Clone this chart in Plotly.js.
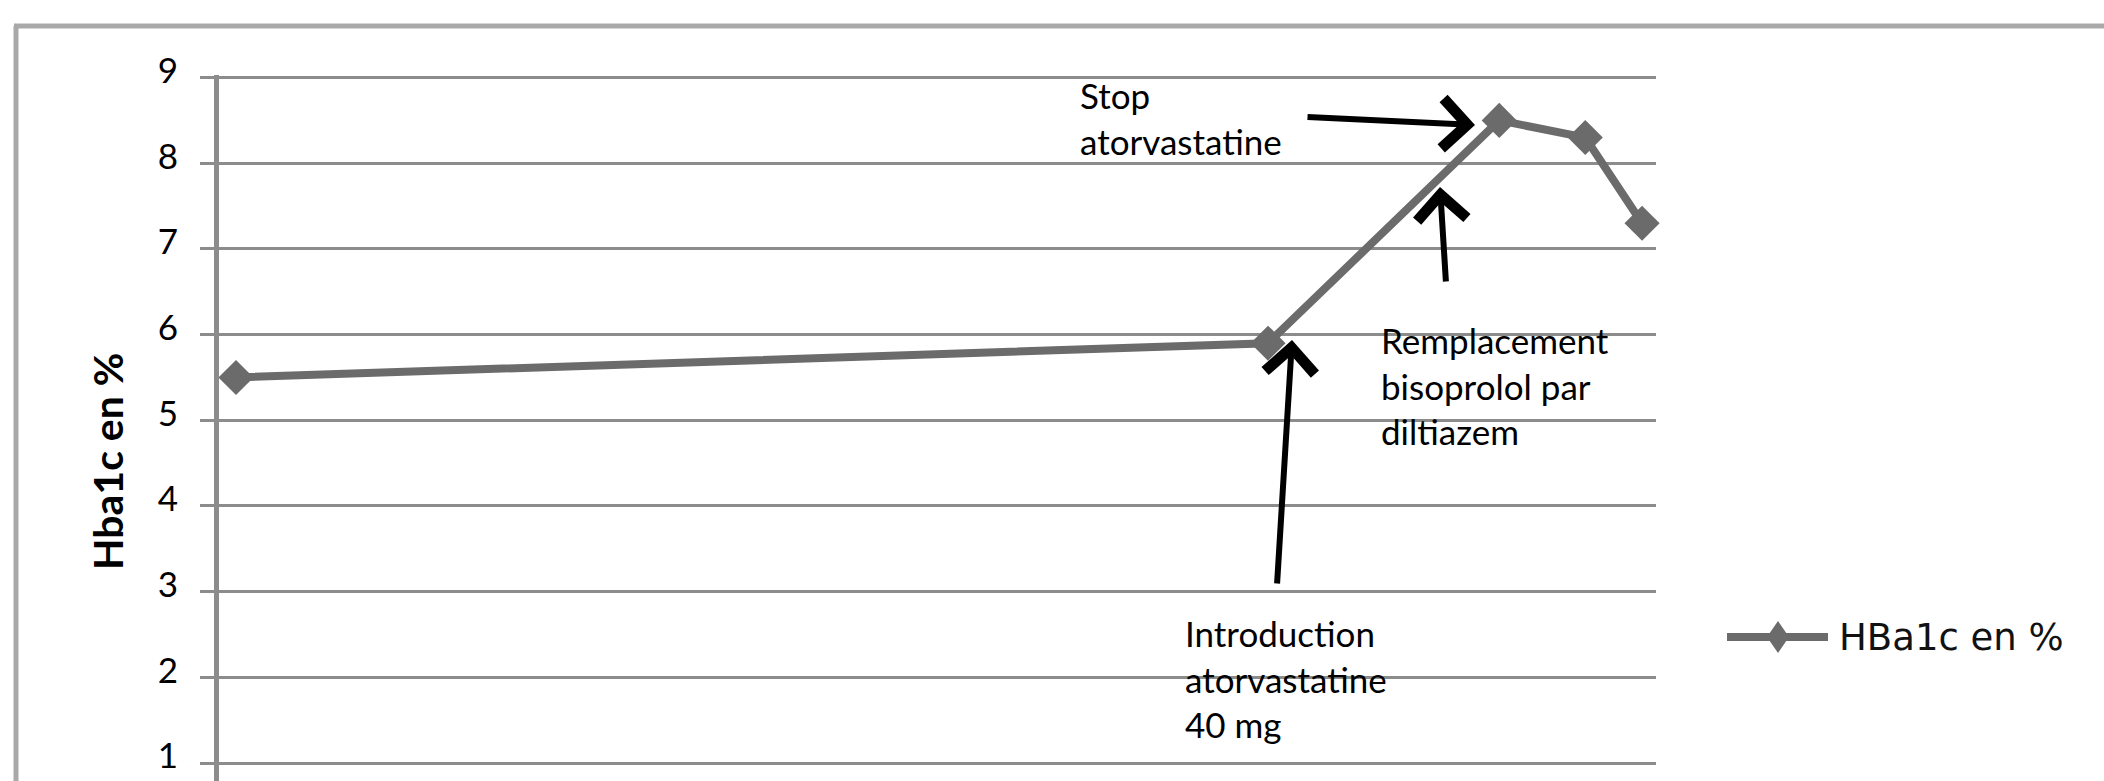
<!DOCTYPE html>
<html>
<head>
<meta charset="utf-8">
<script src="https://cdn.plot.ly/plotly-3.0.1.min.js"></script>
<style>html,body{margin:0;padding:0;background:#fff;overflow:hidden}#chart{width:2104px;height:781px}</style>
</head>
<body>
<div id="chart"></div>
<script>
// ---- data ----
const seriesName = "HBa1c en %";
const timePoints = [0, 30.35, 37.15, 39.68, 41.35];   // position in time (months, estimated)
const hba1cValues = [5.5, 5.9, 8.5, 8.3, 7.3];
const yTickValues = [1, 2, 3, 4, 5, 6, 7, 8, 9];
const yTickLabels = ["1", "2", "3", "4", "5", "6", "7", "8", "9"];
const yAxisTitle = "Hba1c en %";
const eventLabels = [
  "Stop<br>atorvastatine",
  "Remplacement<br>bisoprolol par<br>diltiazem",
  "Introduction<br>atorvastatine<br>40 mg"
];

// ---- layout geometry (pixels) ----
const W = 2104, H = 781;
const M = {l: 219, r: 448, t: 75, b: 0};
const xRange = [-0.5, 41.76];
const yRange = [0.79, 9.03];
const plotW = W - M.l - M.r, plotH = H - M.t - M.b;
const dx = px => xRange[0] + (px - M.l) / plotW * (xRange[1] - xRange[0]);
const dy = py => yRange[1] - (py - M.t) / plotH * (yRange[1] - yRange[0]);
const paperX = px => (px - M.l) / plotW;
const paperY = py => (H - M.b - py) / plotH;

const grey = "#6b6b6b";
const lineWidth = 8;
const trace = {
  type: "scatter", mode: "lines+markers", name: seriesName,
  x: timePoints, y: hba1cValues,
  line: {color: grey, width: lineWidth},
  marker: {symbol: "diamond", size: 27, color: grey},
  cliponaxis: false, hoverinfo: "skip", showlegend: false
};

const textFont = {family: "Lato, 'Open Sans', sans-serif", size: 35, color: "#000"};
// arrows: [tip px, tail px]
const arrows = [
  [[1475, 125], [1306, 117]],
  [[1440, 187], [1446, 283]],
  [[1292, 340], [1277, 585]]
];
// text blocks: [left px, center py]
const textPos = [[1078, 118], [1379, 385], [1183, 678]];

const annotations = [];
arrows.forEach(a => annotations.push({
  xref: "x", yref: "y", axref: "x", ayref: "y",
  x: dx(a[0][0]), y: dy(a[0][1]), ax: dx(a[1][0]), ay: dy(a[1][1]),
  text: "", showarrow: true, arrowhead: 4, arrowwidth: 6, arrowsize: 1.6, arrowcolor: "#000"
}));
eventLabels.forEach((t, i) => annotations.push({
  xref: "paper", yref: "paper", x: paperX(textPos[i][0]), y: paperY(textPos[i][1]),
  xanchor: "left", yanchor: "middle", align: "left", showarrow: false,
  text: t, font: textFont
}));
annotations.push({
  xref: "paper", yref: "paper", x: paperX(107), y: paperY(461),
  xanchor: "center", yanchor: "middle", textangle: -90, showarrow: false,
  text: "<b>" + yAxisTitle + "</b>",
  font: {family: "Lato, sans-serif", size: 41, color: "#000"}
});

// legend (drawn to match the long sample line of the original)
const legendY = 637, legendX0 = 1727, legendX1 = 1828, legendMarkX = 1778, legendTextX = 1837;
annotations.push({
  xref: "paper", yref: "paper", x: paperX(legendTextX), y: paperY(legendY),
  xanchor: "left", yanchor: "middle", showarrow: false,
  text: seriesName, font: {family: "'DejaVu Sans', sans-serif", size: 37, color: "#111"}
});

const borderColor = "#a9a9a9";
const shapes = [
  {type: "line", xref: "paper", yref: "paper", x0: paperX(16), x1: paperX(16), y0: paperY(900), y1: paperY(26),
   line: {color: borderColor, width: 5}},
  {type: "line", xref: "paper", yref: "paper", x0: paperX(14), x1: paperX(2300), y0: paperY(26), y1: paperY(26),
   line: {color: borderColor, width: 5}},
  {type: "line", xref: "paper", yref: "paper", x0: paperX(legendX0), x1: paperX(legendX1), y0: paperY(legendY), y1: paperY(legendY),
   line: {color: grey, width: lineWidth}},
  {type: "path", xref: "paper", yref: "paper", xsizemode: "pixel", ysizemode: "pixel",
   xanchor: paperX(legendMarkX), yanchor: paperY(legendY),
   path: "M0,16 L11,0 L0,-16 L-11,0 Z", fillcolor: grey, line: {width: 0}}
];

const layout = {
  width: W, height: H,
  margin: M,
  paper_bgcolor: "#fff", plot_bgcolor: "#fff",
  showlegend: false,
  xaxis: {range: xRange, showgrid: false, zeroline: false, showline: false, showticklabels: false, ticks: "", fixedrange: true},
  yaxis: {
    range: yRange, tickvals: yTickValues, ticktext: yTickLabels,
    showgrid: true, gridcolor: "#8c8c8c", gridwidth: 3, zeroline: false,
    showline: true, linecolor: "#8c8c8c", linewidth: 5,
    ticks: "outside", ticklen: 14, tickwidth: 3, tickcolor: "#8c8c8c",
    ticklabelstandoff: 15, ticklabeloverflow: "allow", ticklabelshift: -7,
    tickfont: {family: "Lato, sans-serif", size: 35, color: "#000"},
    fixedrange: true
  },
  annotations: annotations,
  shapes: shapes
};

Plotly.newPlot("chart", [trace], layout, {displayModeBar: false, staticPlot: true});
</script>
</body>
</html>
